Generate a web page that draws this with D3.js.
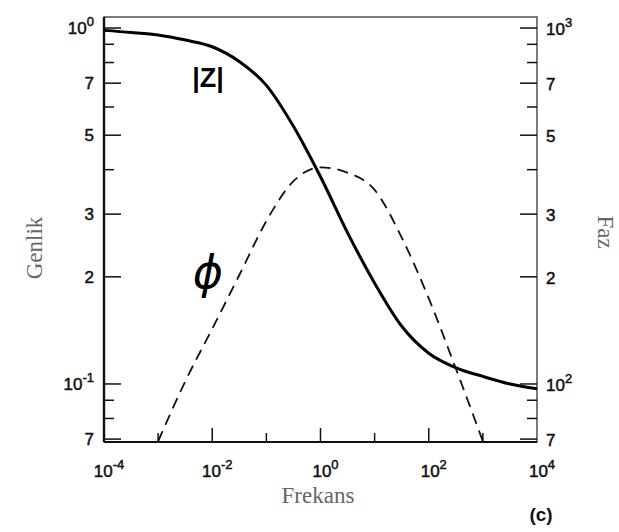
<!DOCTYPE html>
<html lang="tr">
<head>
<meta charset="UTF-8">
<title>Genlik ve Faz - Frekans</title>
<script src="https://cdn.jsdelivr.net/npm/d3@7"></script>
<style>
    body { margin: 0; background: #fff; }
    .tick-label { font-family: "Liberation Sans", Arial, sans-serif; font-size: 17px; fill: #111; stroke: #111; stroke-width: 0.5px; }
    .axis-title { font-family: "Liberation Serif", "Times New Roman", serif; font-size: 23px; fill: #666; }
</style>
</head>
<body>
<div class="container"></div>
<script>
    // ---------- data ----------
    const zFreq = [1e-4, 3.2e-4, 1e-3, 3.2e-3, 1e-2, 3.2e-2, 0.1, 0.32, 1, 3.2, 10, 32, 100, 320, 1000, 3200, 1e4]
    const zMag  = [0.985, 0.972, 0.956, 0.925, 0.886, 0.804, 0.69, 0.528, 0.382, 0.265, 0.192, 0.145, 0.122, 0.111, 0.105, 0.1, 0.097]

    const phiFreq = [1e-3, 3.2e-3, 1e-2, 3.2e-2, 0.1, 0.32, 1, 3.2, 10, 32, 100, 320, 1000]
    const phiVal  = [69, 102, 143, 203, 287, 372, 406, 392, 351, 257, 174, 110, 69]

    // axis ticks (left = Genlik, right = Faz, bottom = Frekans)
    const leftTicks  = [1, 0.9, 0.8, 0.7, 0.6, 0.5, 0.4, 0.3, 0.2, 0.1, 0.09, 0.08, 0.07]
    const leftLabels = [[1, "10", "0"], [0.7, "7"], [0.5, "5"], [0.3, "3"], [0.2, "2"], [0.1, "10", "-1"], [0.07, "7"]]
    const rightTicks  = [1000, 900, 800, 700, 600, 500, 400, 300, 200, 100, 90, 80, 70]
    const rightLabels = [[1000, "10", "3"], [700, "7"], [500, "5"], [300, "3"], [200, "2"], [100, "10", "2"], [70, "7"]]
    const xTicks  = [1e-3, 1e-2, 1e-1, 1, 10, 100, 1000]
    const xLabels = [[1e-4, "10", "-4"], [1e-2, "10", "-2"], [1, "10", "0"], [100, "10", "2"], [1e4, "10", "4"]]

    // ---------- svg + scales ----------
    const svg = d3.select(".container").append("svg")
        .attr("width", 619).attr("height", 532)

    const x  = d3.scaleLog().domain([1e-4, 1e4]).range([104, 537])
    const yL = d3.scaleLog().domain([0.0687, 1.074]).range([442, 17])
    const yR = d3.scaleLog().domain([68.7, 1074]).range([442, 17])

    // frame
    svg.append("rect").attr("x", 104).attr("y", 17).attr("width", 433).attr("height", 425)
        .attr("fill", "none").attr("stroke", "#333").attr("stroke-width", 1.3)
    svg.append("line").attr("x1", 104).attr("x2", 104).attr("y1", 17).attr("y2", 442)
        .attr("stroke", "#111").attr("stroke-width", 2.4)
    svg.append("line").attr("x1", 104).attr("x2", 537).attr("y1", 442).attr("y2", 442)
        .attr("stroke", "#111").attr("stroke-width", 2)

    const isMajor = (v, list) => list.some(l => Math.abs(l[0] - v) < 1e-9)

    // left ticks (inward)
    svg.append("g").selectAll("line").data(leftTicks).join("line")
        .attr("x1", 104).attr("x2", d => 104 + (isMajor(d, leftLabels) ? 17 : 10))
        .attr("y1", d => yL(d)).attr("y2", d => yL(d))
        .attr("stroke", "#111").attr("stroke-width", 1.5)
    // right ticks (inward)
    svg.append("g").selectAll("line").data(rightTicks).join("line")
        .attr("x1", 537).attr("x2", d => 537 - (isMajor(d, rightLabels) ? 17 : 10))
        .attr("y1", d => yR(d)).attr("y2", d => yR(d))
        .attr("stroke", "#111").attr("stroke-width", 1.5)
    // bottom ticks (inward)
    svg.append("g").selectAll("line").data(xTicks).join("line")
        .attr("x1", d => x(d)).attr("x2", d => x(d))
        .attr("y1", 442).attr("y2", d => 442 - (isMajor(d, xLabels) ? 14 : 9))
        .attr("stroke", "#111").attr("stroke-width", 1.5)

    // tick labels with superscripts
    function addLabel(g, px, py, anchor, base, sup) {
        const t = g.append("text").attr("class", "tick-label")
            .attr("x", px).attr("y", py).attr("text-anchor", anchor)
        t.append("tspan").text(base)
        if (sup) t.append("tspan").attr("font-size", 13).attr("dy", -8).text(sup)
    }
    const lab = svg.append("g")
    leftLabels.forEach(d => addLabel(lab, 94, yL(d[0]) + 6, "end", d[1], d[2]))
    rightLabels.forEach(d => addLabel(lab, 546, yR(d[0]) + 7, "start", d[1], d[2]))
    xLabels.forEach(d => addLabel(lab, x(d[0]) + 5, 477, "middle", d[1], d[2]))

    // ---------- curves ----------
    const zLine = d3.line()
        .x((d, i) => x(zFreq[i])).y(d => yL(d))
        .curve(d3.curveMonotoneX)
    svg.append("path").datum(zMag).attr("d", zLine)
        .attr("fill", "none").attr("stroke", "#000").attr("stroke-width", 3)

    const phiLine = d3.line()
        .x((d, i) => x(phiFreq[i])).y(d => yR(d))
        .curve(d3.curveMonotoneX)
    svg.append("path").datum(phiVal).attr("d", phiLine)
        .attr("fill", "none").attr("stroke", "#111").attr("stroke-width", 1.8)
        .attr("stroke-dasharray", "11,7")

    // curve labels
    svg.append("text").attr("x", 208).attr("y", 87).attr("text-anchor", "middle")
        .attr("font-family", "Liberation Sans, sans-serif").attr("font-size", 27).attr("font-weight", "bold")
        .attr("fill", "#000").text("|Z|")
    svg.append("text").attr("x", 208).attr("y", 288).attr("text-anchor", "middle")
        .attr("font-family", "DejaVu Sans, sans-serif").attr("font-size", 46).attr("font-style", "italic")
        .attr("fill", "#000").text("ϕ")

    // axis titles
    svg.append("text").attr("class", "axis-title")
        .attr("transform", "translate(42,248)rotate(-90)").attr("text-anchor", "middle").text("Genlik")
    svg.append("text").attr("class", "axis-title")
        .attr("transform", "translate(598,232)rotate(90)").attr("text-anchor", "middle").text("Faz")
    svg.append("text").attr("class", "axis-title")
        .attr("x", 318).attr("y", 503).attr("text-anchor", "middle").text("Frekans")
    svg.append("text").attr("x", 541).attr("y", 521).attr("text-anchor", "middle")
        .attr("font-family", "Liberation Sans, sans-serif").attr("font-size", 19).attr("font-weight", "bold")
        .attr("fill", "#111").text("(c)")
</script>
</body>
</html>
